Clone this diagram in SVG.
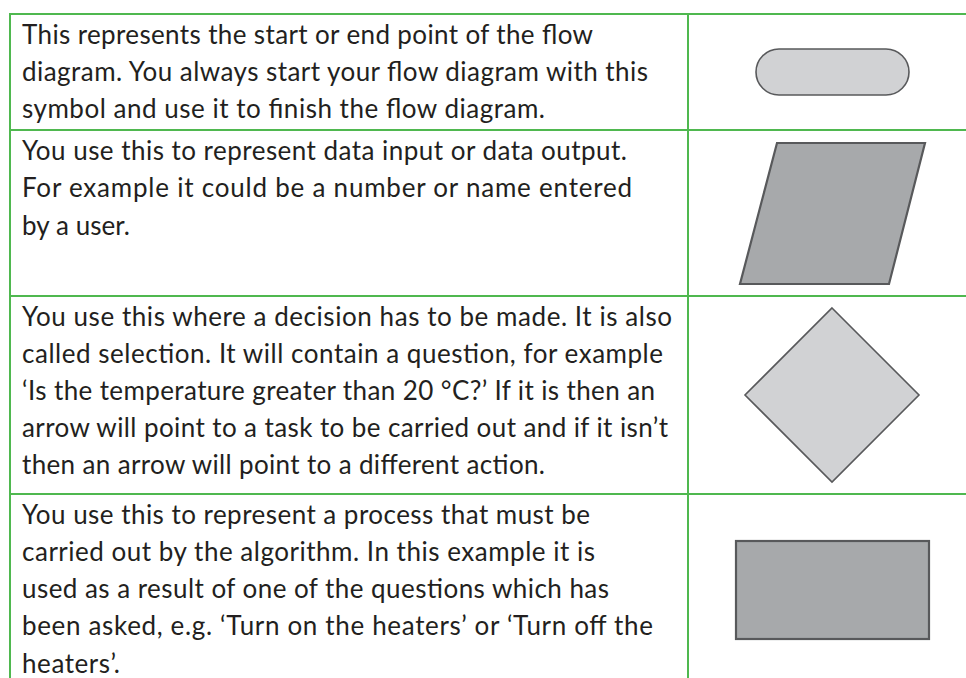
<svg xmlns="http://www.w3.org/2000/svg" width="966" height="678" viewBox="0 0 966 678">
<style>
.grid{stroke:#4fb84f;stroke-width:2;fill:none}
.t{font-family:Lato,"Liberation Sans",sans-serif;font-size:26px;fill:#231f20}
.light{fill:#d1d2d4;stroke:#58595b;stroke-width:1.6}
.dark{fill:#a7a9ab;stroke:#58595b;stroke-width:2.2}
</style>
<rect width="966" height="678" fill="#ffffff"/>
<g id="grid">
<line class="grid" x1="10" y1="14" x2="966" y2="14"/>
<line class="grid" x1="10" y1="130" x2="966" y2="130"/>
<line class="grid" x1="10" y1="296" x2="966" y2="296"/>
<line class="grid" x1="10" y1="494" x2="966" y2="494"/>
<line class="grid" x1="10" y1="13" x2="10" y2="678"/>
<line class="grid" x1="688" y1="13" x2="688" y2="678"/>
</g>
<g id="row1-text">
<text class="t" x="22" y="44" textLength="571" lengthAdjust="spacing">This represents the start or end point of the flow</text>
<text class="t" x="22" y="81" textLength="626" lengthAdjust="spacing">diagram. You always start your flow diagram with this</text>
<text class="t" x="22" y="118" textLength="523" lengthAdjust="spacing">symbol and use it to finish the flow diagram.</text>
</g>
<g id="terminator">
<rect class="light" x="756" y="49" width="153" height="46" rx="23" ry="23"/>
</g>
<g id="row2-text">
<text class="t" x="22" y="160" textLength="605" lengthAdjust="spacing">You use this to represent data input or data output.</text>
<text class="t" x="22" y="197" textLength="610" lengthAdjust="spacing">For example it could be a number or name entered</text>
<text class="t" x="22" y="235" textLength="108" lengthAdjust="spacing">by a user.</text>
</g>
<g id="input-output">
<polygon class="dark" points="777,143 925,143 889,284 740,284"/>
</g>
<g id="row3-text">
<text class="t" x="22" y="326" textLength="650" lengthAdjust="spacing">You use this where a decision has to be made. It is also</text>
<text class="t" x="22" y="363" textLength="641" lengthAdjust="spacing">called selection. It will contain a question, for example</text>
<text class="t" x="22" y="400" textLength="633" lengthAdjust="spacing">‘Is the temperature greater than 20 °C?’ If it is then an</text>
<text class="t" x="22" y="437" textLength="646" lengthAdjust="spacing">arrow will point to a task to be carried out and if it isn’t</text>
<text class="t" x="22" y="474" textLength="523" lengthAdjust="spacing">then an arrow will point to a different action.</text>
</g>
<g id="decision">
<polygon class="light" points="832,308 919,395 832,482 745,395"/>
</g>
<g id="row4-text">
<text class="t" x="22" y="524" textLength="568" lengthAdjust="spacing">You use this to represent a process that must be</text>
<text class="t" x="22" y="561" textLength="573" lengthAdjust="spacing">carried out by the algorithm. In this example it is</text>
<text class="t" x="22" y="598" textLength="587" lengthAdjust="spacing">used as a result of one of the questions which has</text>
<text class="t" x="22" y="635" textLength="631" lengthAdjust="spacing">been asked, e.g. ‘Turn on the heaters’ or ‘Turn off the</text>
<text class="t" x="22" y="673" textLength="98" lengthAdjust="spacing">heaters’.</text>
</g>
<g id="process">
<rect class="dark" x="736" y="541" width="193" height="98"/>
</g>
</svg>
